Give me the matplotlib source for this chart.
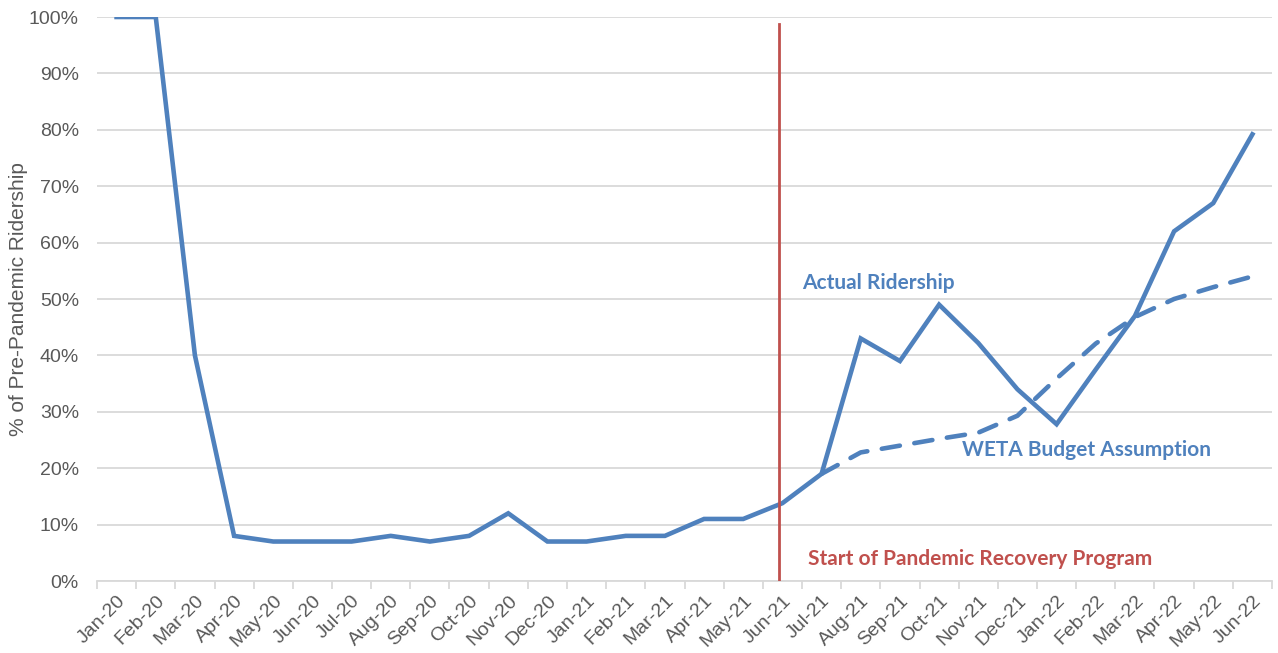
import matplotlib
matplotlib.use("Agg")
import matplotlib.pyplot as plt
from matplotlib.ticker import FixedLocator, FuncFormatter

months = ["Jan-20", "Feb-20", "Mar-20", "Apr-20", "May-20", "Jun-20", "Jul-20", "Aug-20",
          "Sep-20", "Oct-20", "Nov-20", "Dec-20", "Jan-21", "Feb-21", "Mar-21", "Apr-21",
          "May-21", "Jun-21", "Jul-21", "Aug-21", "Sep-21", "Oct-21", "Nov-21", "Dec-21",
          "Jan-22", "Feb-22", "Mar-22", "Apr-22", "May-22", "Jun-22"]
actual = [100, 100, 40, 8, 7, 7, 7, 8, 7, 8, 12, 7, 7, 8, 8, 11, 11, 13.8, 19,
          43, 39, 49, 42.2, 34, 27.8, 37.5, 47, 62, 67, 79.2]
budget_months = months[18:]
budget = [19, 22.8, 24, 25.2, 26.3, 29.3, 35.9, 42.1, 46.8, 50, 52.1, 54]
program_start = "Jun-21"

blue = "#4F81BD"
red = "#C0504D"
gray_text = "#595959"
grid = "#D9D9D9"

fig = plt.figure(figsize=(12.78, 6.53), dpi=100)
ax = fig.add_axes([97/1278, 1 - 581/653, (1272-97)/1278, (581-17)/653])

x = list(range(len(months)))
ax.plot(x, actual, color=blue, lw=3.3, solid_joinstyle="miter", zorder=4)
bx = [months.index(m) for m in budget_months]
ax.plot(bx, budget, color=blue, lw=3.3, dashes=(4.0, 3.2), dash_capstyle="round", zorder=3)

ps = months.index(program_start) - 0.08
ax.plot([ps, ps], [0, 98.8], color=red, lw=2.0, zorder=5)

ax.set_xlim(-0.5, len(months) - 0.5)
ax.set_ylim(0, 100)
ax.set_yticks(range(0, 101, 10))
ax.yaxis.set_major_formatter(FuncFormatter(lambda v, p: f"{int(v)}%"))
ax.grid(axis="y", color=grid, lw=1.3, zorder=0)
ax.set_axisbelow(True)

ax.set_xticks(x)
ax.set_xticklabels(months, rotation=45, ha="right", va="top", rotation_mode="anchor",
                   fontsize=14, color=gray_text, family="Liberation Sans")
ax.xaxis.set_minor_locator(FixedLocator([i - 0.5 for i in range(len(months) + 1)]))
ax.tick_params(axis="x", which="major", length=0, pad=8)
ax.tick_params(axis="x", which="minor", length=6, width=1.3, color=grid)
ax.tick_params(axis="y", length=0, pad=13, labelsize=14, labelcolor=gray_text)
for lab in ax.get_yticklabels():
    lab.set_family("Liberation Sans")

for s in ["top", "right", "left"]:
    ax.spines[s].set_visible(False)
ax.spines["bottom"].set_color(grid)
ax.spines["bottom"].set_linewidth(1.3)

ax.set_ylabel("% of Pre-Pandemic Ridership", fontsize=15, color=gray_text,
              family="Liberation Sans")
ax.yaxis.set_label_coords((28 - 97) / 1175, 0.5)

ax.text(17.5, 52.8, "Actual Ridership", color=blue, fontsize=15, fontweight="bold",
        family="Lato", ha="left", va="center")
ax.text(21.58, 23.2, "WETA Budget Assumption", color=blue, fontsize=15, fontweight="bold",
        family="Lato", ha="left", va="center")
ax.text(17.65, 3.9, "Start of Pandemic Recovery Program", color=red, fontsize=15,
        fontweight="bold", family="Lato", ha="left", va="center")

fig.savefig("out.png", dpi=100)
